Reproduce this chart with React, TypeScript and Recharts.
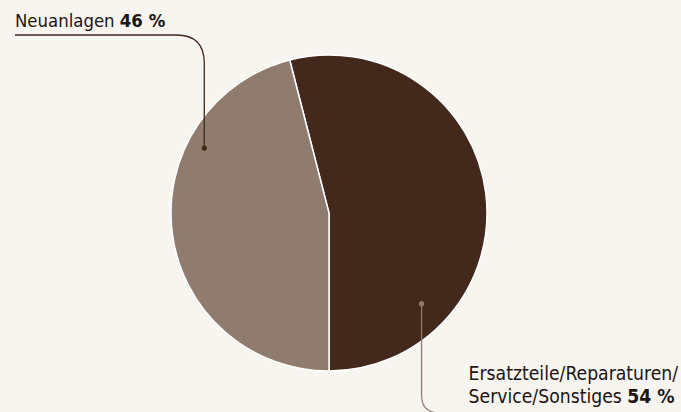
import React from 'react';
import { PieChart, Pie, Cell } from 'recharts';

const categories = ['Ersatzteile/Reparaturen/Service/Sonstiges', 'Neuanlagen'];
const shares = [54, 46];
const colors = ['#43281c', '#8f7c6e'];

const data = categories.map((name, i) => ({ name, value: shares[i] }));

const FONT = '"DejaVu Sans Condensed", sans-serif';
const RAD = Math.PI / 180;

// label anchor (angle in degrees, fraction of radius) for each slice
const anchors = [
  { angle: -44.4, r: 0.82 },
  { angle: 152.5, r: 0.89 },
];

const renderLabel = (props: any) => {
  const { cx, cy, outerRadius, index } = props;
  const a = anchors[index];
  const px = cx + outerRadius * a.r * Math.cos(a.angle * RAD);
  const py = cy - outerRadius * a.r * Math.sin(a.angle * RAD);
  if (index === 1) {
    const lineY = cy - 178;
    const x0 = cx - 314;
    return (
      <g>
        <path
          d={`M ${x0} ${lineY} H ${px - 28} Q ${px} ${lineY} ${px} ${lineY + 28} V ${py}`}
          fill="none"
          stroke={colors[0]}
          strokeWidth={1.3}
        />
        <circle cx={px} cy={py} r={2.6} fill={colors[0]} />
        <text x={x0} y={lineY - 8} fontFamily={FONT} fontSize={18.4} fill="#1c1511">
          Neuanlagen <tspan fontWeight="bold">{shares[1]} %</tspan>
        </text>
      </g>
    );
  }
  const bottom = cy + 200;
  const tx = px + 47;
  return (
    <g>
      <path
        d={`M ${px} ${py} V ${bottom - 18} Q ${px} ${bottom} ${px + 18} ${bottom}`}
        fill="none"
        stroke={colors[1]}
        strokeWidth={1.3}
      />
      <circle cx={px} cy={py} r={2.6} fill={colors[1]} />
      <text x={tx} y={cy + 167} fontFamily={FONT} fontSize={19.2} fill="#1c1511">
        Ersatzteile/Reparaturen/
      </text>
      <text x={tx} y={cy + 190} fontFamily={FONT} fontSize={19.2} fill="#1c1511">
        Service/Sonstiges <tspan fontWeight="bold">{shares[0]} %</tspan>
      </text>
    </g>
  );
};

export default function App() {
  return (
    <div style={{ position: 'fixed', left: 0, top: 0, width: 681, height: 412, background: '#f8f4f0' }}>
      <PieChart width={681} height={412} margin={{ top: 0, right: 0, bottom: 0, left: 0 }}>
        <Pie
          data={data}
          dataKey="value"
          nameKey="name"
          cx={329}
          cy={213}
          outerRadius={158}
          startAngle={-90}
          endAngle={270}
          stroke="#ffffff"
          strokeWidth={1.5}
          label={renderLabel}
          labelLine={false}
          isAnimationActive={false}
        >
          {data.map((d, i) => (
            <Cell key={d.name} fill={colors[i]} />
          ))}
        </Pie>
      </PieChart>
    </div>
  );
}
